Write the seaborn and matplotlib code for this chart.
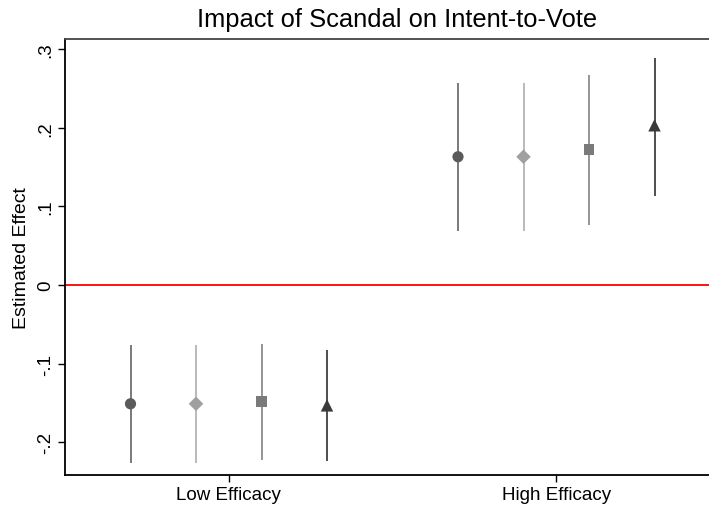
import matplotlib
matplotlib.use("Agg")
import matplotlib.pyplot as plt
import seaborn as sns
import pandas as pd
import numpy as np

categories = ["Low Efficacy", "High Efficacy"]
series = ["Model 1", "Model 2", "Model 3", "Model 4"]
estimates = {
    "Model 1": [-0.151, 0.163],
    "Model 2": [-0.151, 0.163],
    "Model 3": [-0.148, 0.172],
    "Model 4": [-0.153, 0.203],
}
ci_low = {
    "Model 1": [-0.226, 0.069],
    "Model 2": [-0.226, 0.069],
    "Model 3": [-0.222, 0.076],
    "Model 4": [-0.224, 0.113],
}
ci_high = {
    "Model 1": [-0.076, 0.257],
    "Model 2": [-0.076, 0.257],
    "Model 3": [-0.075, 0.267],
    "Model 4": [-0.083, 0.289],
}
y_ticks = [-0.2, -0.1, 0, 0.1, 0.2, 0.3]
y_tick_labels = ["-.2", "-.1", "0", ".1", ".2", ".3"]

marker_colors = ["#5a5a5a", "#a0a0a0", "#7a7a7a", "#3a3a3a"]
line_colors = ["#707070", "#b4b4b4", "#8c8c8c", "#404040"]
markers = ["o", "D", "s", "^"]
sizes = [65, 55, 60, 80]
offsets = [-0.3, -0.1, 0.1, 0.3]

sns.set_theme(style="white")
plt.rcParams["font.family"] = ["Liberation Sans", "DejaVu Sans"]
plt.rcParams["text.color"] = "black"
plt.rcParams["axes.labelcolor"] = "black"
plt.rcParams["xtick.color"] = "black"
plt.rcParams["ytick.color"] = "black"

rows = []
for si, s in enumerate(series):
    for ci, c in enumerate(categories):
        rows.append({"series": s, "category": c, "x": ci + offsets[si],
                     "est": estimates[s][ci], "lo": ci_low[s][ci], "hi": ci_high[s][ci]})
df = pd.DataFrame(rows)

fig = plt.figure(figsize=(7.09, 5.10), dpi=100)
ax = fig.add_axes([65 / 709, 1 - 476 / 510, (720 - 65) / 709, (476 - 39.5) / 510])

ax.axhline(0, color="red", lw=1.3, zorder=1)

for si, s in enumerate(series):
    d = df[df["series"] == s]
    ax.vlines(d["x"], d["lo"], d["hi"], color=line_colors[si], lw=1.3, zorder=2)
    sns.scatterplot(data=d, x="x", y="est", marker=markers[si], color=marker_colors[si],
                    s=sizes[si], edgecolor="none", ax=ax, zorder=3, legend=False)

ax.set_xlim(-0.5, 1.5)
ax.set_ylim(-0.2415, 0.3133)
ax.set_xticks([0, 1])
ax.set_xticklabels(categories, fontsize=13.5)
ax.set_yticks(y_ticks)
ax.set_yticklabels(y_tick_labels, fontsize=13.5, rotation=90, va="center")
ax.tick_params(axis="both", which="major", length=5, width=1, color="black",
               direction="out", left=True, bottom=True, pad=3)
ax.set_xlabel("")
ax.set_ylabel("Estimated Effect", fontsize=14, labelpad=5)

for sp in ["left", "bottom"]:
    ax.spines[sp].set_color("black")
    ax.spines[sp].set_linewidth(1.3)
ax.spines["top"].set_color("#444444")
ax.spines["top"].set_linewidth(1.3)
ax.spines["right"].set_visible(False)

fig.text(397 / 709, 1 - 20 / 510, "Impact of Scandal on Intent-to-Vote",
         ha="center", va="center", fontsize=18.4)

fig.savefig("out.png", dpi=100)
